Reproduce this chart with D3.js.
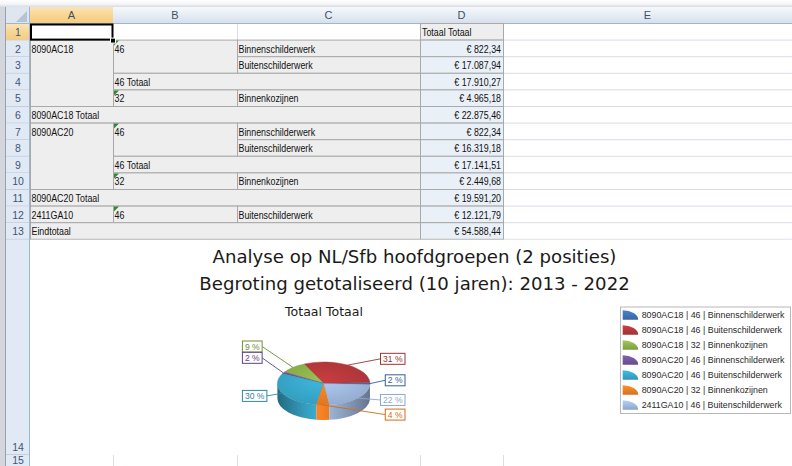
<!DOCTYPE html>
<html><head><meta charset="utf-8">
<script src="https://cdn.jsdelivr.net/npm/d3@7"></script>
<style>body{margin:0;background:#fff;overflow:hidden}svg{display:block}</style>
</head><body><svg id="c" width="792" height="466"></svg>
<script>
// ---------------- data ----------------
const columnLetters = ["A", "B", "C", "D", "E"];
const rowNumbers = [1, 2, 3, 4, 5, 6, 7, 8, 9, 10, 11, 12, 13, 14, 15];
const colA = ["", "8090AC18", "", "", "", "8090AC18 Totaal", "8090AC20", "", "", "", "8090AC20 Totaal", "2411GA10", "Eindtotaal"];
const colB = ["", "46", "", "46 Totaal", "32", "", "46", "", "46 Totaal", "32", "", "46", ""];
const colC = ["", "Binnenschilderwerk", "Buitenschilderwerk", "", "Binnenkozijnen", "", "Binnenschilderwerk", "Buitenschilderwerk", "", "Binnenkozijnen", "", "Buitenschilderwerk", ""];
const colD = ["Totaal Totaal", "€ 822,34", "€ 17.087,94", "€ 17.910,27", "€ 4.965,18", "€ 22.875,46", "€ 822,34", "€ 16.319,18", "€ 17.141,51", "€ 2.449,68", "€ 19.591,20", "€ 12.121,79", "€ 54.588,44"];

const chartTitle = ["Analyse op NL/Sfb hoofdgroepen (2 posities)", "Begroting getotaliseerd (10 jaren): 2013 - 2022"];
const pieTitle = "Totaal Totaal";
const seriesLabels = [
  "8090AC18 | 46 | Binnenschilderwerk",
  "8090AC18 | 46 | Buitenschilderwerk",
  "8090AC18 | 32 | Binnenkozijnen",
  "8090AC20 | 46 | Binnenschilderwerk",
  "8090AC20 | 46 | Buitenschilderwerk",
  "8090AC20 | 32 | Binnenkozijnen",
  "2411GA10 | 46 | Buitenschilderwerk"
];
const seriesValues = [822.34, 17087.94, 4965.18, 822.34, 16319.18, 2449.68, 12121.79];

// ---------------- styles / layout ----------------
const seriesColors = ["#3f74b8", "#b6383b", "#8db24c", "#74559f", "#38a9cc", "#f17f24", "#a0b9de"];
const labelTextColors = ["#345f95", "#983536", "#6f8f34", "#5f4683", "#2f87a5", "#d86a14", "#8da7cf"];
const labelNudge = [-3.3, -6.3, -20.9, -15.1, 2.6, 9.6, 1.8];

const W = 792, H = 466;
const svg = d3.select("#c");
const defs = svg.append("defs");
const cellFont = "Liberation Sans, Arial, sans-serif";
const titleFont = "DejaVu Sans, Verdana, sans-serif";

function natWidth(text, family, size) {
  const t = svg.append("text").attr("font-family", family).attr("font-size", size).text(text);
  const w = t.node().getComputedTextLength();
  t.remove();
  return w;
}
function fitSize(text, family, target) { return 100 * target / natWidth(text, family, 100); }
function condText(sel, family, size, k) {
  sel.attr("font-family", family).attr("font-size", size);
  const w = sel.node().getComputedTextLength();
  sel.attr("textLength", w * k).attr("lengthAdjust", "spacingAndGlyphs");
  return sel;
}
function lin(id, stops, x1, y1, x2, y2, user) {
  const g = defs.append("linearGradient").attr("id", id)
    .attr("x1", x1).attr("y1", y1).attr("x2", x2).attr("y2", y2);
  if (user) g.attr("gradientUnits", "userSpaceOnUse");
  stops.forEach(([o, c]) => g.append("stop").attr("offset", o).attr("stop-color", c));
  return `url(#${id})`;
}

// ---------------- grid geometry ----------------
const colEdges = [30, 113, 237, 420, 503, 792];
const headerTop = 7, headerBot = 24, rowH = 16.6;
const rowTop = r => headerBot + (r - 1) * rowH;
const row14Top = rowTop(14), row14Bot = 455, row15Bot = 470;

svg.append("rect").attr("width", W).attr("height", H).attr("fill", "#fff");
svg.append("rect").attr("x", 0).attr("y", 0).attr("width", W).attr("height", headerTop)
  .attr("fill", lin("topg", [[0, "#ffffff"], [0.6, "#f3f4f6"], [1, "#d6dae0"]], 0, 0, 0, 1));
svg.append("rect").attr("x", 0).attr("y", headerTop).attr("width", 6).attr("height", H)
  .attr("fill", "#d3d7dd");
svg.append("line").attr("x1", 5.5).attr("x2", 5.5).attr("y1", headerTop).attr("y2", H).attr("stroke", "#9aa1ab");

// column headers
const hdrFill = lin("hdr", [[0, "#f6f8fb"], [0.5, "#e6ecf4"], [1, "#d4deeb"]], 0, 0, 0, 1);
const selFill = lin("sel", [[0, "#fbe4b6"], [0.5, "#f8d592"], [1, "#f6cb7c"]], 0, 0, 0, 1);
columnLetters.forEach((L, i) => {
  svg.append("rect").attr("x", colEdges[i]).attr("y", headerTop)
    .attr("width", colEdges[i + 1] - colEdges[i]).attr("height", headerBot - headerTop)
    .attr("fill", i === 0 ? selFill : hdrFill);
  svg.append("line").attr("x1", colEdges[i + 1] + 0.5).attr("x2", colEdges[i + 1] + 0.5)
    .attr("y1", headerTop).attr("y2", headerBot).attr("stroke", "#b9c8da");
  svg.append("text").attr("x", (colEdges[i] + colEdges[i + 1]) / 2).attr("y", (headerTop + headerBot) / 2)
    .attr("dy", "0.36em").attr("text-anchor", "middle").attr("font-family", cellFont)
    .attr("font-size", 11).attr("fill", "#3f4f68").text(L);
});
svg.append("rect").attr("x", 6).attr("y", headerTop).attr("width", 24).attr("height", headerBot - headerTop)
  .attr("fill", "#dfe6f0");
svg.append("path").attr("d", "M27,22L27,11L16,22Z").attr("fill", "#b5c3d6");
svg.append("line").attr("x1", 6).attr("x2", W).attr("y1", headerBot - 0.5).attr("y2", headerBot - 0.5).attr("stroke", "#9eb6ce");

// row headers
rowNumbers.forEach(r => {
  const y0 = r <= 14 ? rowTop(r) : row14Bot;
  const y1 = r <= 13 ? rowTop(r + 1) : (r === 14 ? row14Bot : row15Bot);
  svg.append("rect").attr("x", 6).attr("y", y0).attr("width", 24).attr("height", y1 - y0)
    .attr("fill", r === 1 ? selFill : "#e1e9f4");
  svg.append("line").attr("x1", 6).attr("x2", 30).attr("y1", y1 - 0.5).attr("y2", y1 - 0.5).attr("stroke", "#c3cfdf");
  const ty = r === 14 ? y1 - 8 : (r === 15 ? 460.5 : (y0 + y1) / 2);
  svg.append("text").attr("x", 18).attr("y", ty).attr("dy", "0.36em").attr("text-anchor", "middle")
    .attr("font-family", cellFont).attr("font-size", 10.5).attr("fill", "#3f5478").text(r);
});
svg.append("line").attr("x1", 29.5).attr("x2", 29.5).attr("y1", headerTop).attr("y2", H).attr("stroke", "#9eb6ce");

// sheet gridlines
const gridC = "#d8dee7";
for (let r = 1; r <= 13; r++) {
  svg.append("line").attr("x1", colEdges[4]).attr("x2", W).attr("y1", rowTop(r + 1) - 0.5).attr("y2", rowTop(r + 1) - 0.5).attr("stroke", gridC);
}
svg.append("line").attr("x1", colEdges[2] + 0.5).attr("x2", colEdges[2] + 0.5).attr("y1", rowTop(1)).attr("y2", rowTop(2)).attr("stroke", gridC);

// pivot table cells
const n = colA.length;
const isTot = s => /Totaal$|^Eindtotaal$/.test(s);
const rects = [];
for (let i = 1; i < n; i++) {
  if (isTot(colA[i])) { rects.push([0, 3, i, i]); continue; }
  if (colA[i] !== "") { let j = i + 1; while (j < n && colA[j] === "") j++; rects.push([0, 1, i, j - 1]); }
  if (isTot(colB[i])) { rects.push([1, 3, i, i]); continue; }
  if (colB[i] !== "") { let j = i + 1; while (j < n && colB[j] === "" && colA[j] === "" && colC[j] !== "") j++; rects.push([1, 2, i, j - 1]); }
  if (colC[i] !== "") rects.push([2, 3, i, i]);
}
const pivStroke = "#a9a9a9";
rects.forEach(([c0, c1, i0, i1]) => {
  svg.append("rect").attr("x", colEdges[c0] + 0.5).attr("y", rowTop(i0 + 1) - 0.5)
    .attr("width", colEdges[c1] - colEdges[c0]).attr("height", rowTop(i1 + 2) - rowTop(i0 + 1))
    .attr("fill", "#eeeeee").attr("stroke", pivStroke);
});
colD.forEach((d, i) => {
  svg.append("rect").attr("x", colEdges[3] + 0.5).attr("y", rowTop(i + 1) - 0.5)
    .attr("width", colEdges[4] - colEdges[3]).attr("height", rowH)
    .attr("fill", i === 0 ? "#eeeeee" : "#eaf0f8").attr("stroke", pivStroke);
});
svg.append("rect").attr("x", colEdges[0] + 1).attr("y", rowTop(1)).attr("width", colEdges[1] - colEdges[0] - 1).attr("height", rowH - 0.5).attr("fill", "#fff");

// cell text
const cellSize = 10;
const cellK = 76.7 / natWidth("Binnenschilderwerk", cellFont, cellSize);
const cellText = (x, i, s, anchor) => condText(svg.append("text").attr("x", x).attr("y", rowTop(i + 1) + rowH / 2)
  .attr("dy", "0.36em").attr("fill", "#111").attr("text-anchor", anchor || "start").text(s), cellFont, cellSize, cellK);
for (let i = 0; i < n; i++) {
  if (colA[i]) cellText(colEdges[0] + 1.5, i, colA[i]);
  if (colB[i]) cellText(colEdges[1] + 1.5, i, colB[i]);
  if (colC[i]) cellText(colEdges[2] + 1.5, i, colC[i]);
  if (i === 0) cellText(colEdges[3] + 2, i, colD[i]);
  else cellText(colEdges[4] - 2, i, colD[i], "end");
  if (/^\d+$/.test(colB[i])) {
    const x = colEdges[1] + 1, y = rowTop(i + 1);
    svg.append("path").attr("d", `M${x},${y}L${x + 5},${y}L${x},${y + 5}Z`).attr("fill", "#2f8a34");
  }
}
svg.append("rect").attr("x", colEdges[0] + 1).attr("y", rowTop(1) + 0.5).attr("width", colEdges[1] - colEdges[0] - 1.5).attr("height", rowH - 1.5)
  .attr("fill", "none").attr("stroke", "#000").attr("stroke-width", 2);
svg.append("rect").attr("x", colEdges[1] - 2.5).attr("y", rowTop(2) - 2.5).attr("width", 5).attr("height", 5)
  .attr("fill", "#000").attr("stroke", "#fff").attr("stroke-width", 1);

[1, 2, 3, 4].forEach(k => svg.append("line").attr("x1", colEdges[k] + 0.5).attr("x2", colEdges[k] + 0.5)
  .attr("y1", row14Bot).attr("y2", H).attr("stroke", gridC));

// ---------------- chart ----------------
svg.append("rect").attr("x", 30).attr("y", row14Top).attr("width", W - 30).attr("height", row14Bot - row14Top).attr("fill", "#fff");

const ts = fitSize(chartTitle[0], titleFont, 404);
chartTitle.forEach((t, k) => svg.append("text").attr("x", 414.5).attr("y", 263 + k * 27)
  .attr("text-anchor", "middle").attr("font-family", titleFont).attr("font-size", ts).attr("fill", "#1a1a1a").text(t));

const ps = fitSize(pieTitle, titleFont, 78);
svg.append("text").attr("x", 324).attr("y", 315.5).attr("text-anchor", "middle")
  .attr("font-family", titleFont).attr("font-size", ps).attr("fill", "#1a1a1a").text(pieTitle);

// 3D pie
const cx = 323.7, cy = 383.5, rx = 46.3, ry = 21.5, depth = 15;
const start = Math.PI / 2 + 3 * Math.PI / 180;
const pie = d3.pie().sort(null).startAngle(start).endAngle(start - 2 * Math.PI);
const total = d3.sum(seriesValues);
const slices = pie(seriesValues).map((a, i) => ({ i, t1: Math.PI / 2 - a.startAngle, t2: Math.PI / 2 - a.endAngle, v: a.value }));
const P = (t, dz) => [cx + rx * Math.cos(t), cy - ry * Math.sin(t) + (dz || 0)];

seriesColors.forEach((c, i) => {
  const col = d3.color(c);
  lin("side" + i, [[0, col.darker(1.3)], [0.3, col.darker(0.2)], [0.45, col.brighter(0.1)], [0.75, col.darker(0.5)], [1, col.darker(1.3)]], cx - rx, 0, cx + rx, 0, true);
  const g = defs.append("radialGradient").attr("id", "top" + i).attr("gradientUnits", "userSpaceOnUse")
    .attr("cx", cx).attr("cy", cy - ry * 0.3).attr("r", rx * 1.15)
    .attr("gradientTransform", `translate(${cx},${cy}) scale(1,${ry / rx}) translate(${-cx},${-cy})`);
  g.append("stop").attr("offset", 0).attr("stop-color", col.brighter(0.25));
  g.append("stop").attr("offset", 1).attr("stop-color", col.darker(0.2));
  lin("leg" + i, [[0, col.brighter(0.35)], [1, col.darker(0.35)]], 0, 0, 0, 1);
});

const pieG = svg.append("g");
slices.forEach(s => {
  [[-Math.PI, 0], [Math.PI, 2 * Math.PI]].forEach(([lo, hi]) => {
    const a = Math.max(s.t1, lo), b = Math.min(s.t2, hi);
    if (b <= a) return;
    const pa = P(a), pb = P(b), pa2 = P(a, depth), pb2 = P(b, depth);
    pieG.append("path").attr("d",
      `M${pa}A${rx},${ry} 0 0 0 ${pb}L${pb2}A${rx},${ry} 0 0 1 ${pa2}Z`)
      .attr("fill", `url(#side${s.i})`);
  });
});
slices.forEach(s => {
  const p1 = P(s.t1), p2 = P(s.t2);
  const large = (s.t2 - s.t1) > Math.PI ? 1 : 0;
  pieG.append("path").attr("d", `M${cx},${cy}L${p1}A${rx},${ry} 0 ${large} 0 ${p2}Z`)
    .attr("fill", `url(#top${s.i})`).attr("stroke", d3.color(seriesColors[s.i]).darker(0.4)).attr("stroke-width", 0.4);
});

// data labels
const ls = fitSize("31 %", cellFont, 19.5);
const fmtPct = v => Math.round(v / total * 100) + " %";
slices.forEach(s => {
  const m = (s.t1 + s.t2) / 2;
  const R = P(m);
  const right = Math.cos(m) > -0.1;
  const ly = R[1] + labelNudge[s.i];
  const txt = fmtPct(s.v);
  const t = svg.append("text").attr("font-family", cellFont).attr("font-size", ls).text(txt);
  const tw = t.node().getComputedTextLength();
  const bw = tw + 5, bh = 11;
  const bx = right ? cx + rx + 35 - bw : cx - rx - 35;
  const edge = right ? bx : bx + bw;
  svg.insert("polyline", "text:last-of-type").attr("points", [R, [edge, ly]].join(" "))
    .attr("fill", "none").attr("stroke", labelTextColors[s.i]).attr("stroke-width", 0.9);
  svg.insert("rect", "text:last-of-type").attr("x", bx).attr("y", ly - bh / 2).attr("width", bw).attr("height", bh)
    .attr("fill", "#fff").attr("stroke", labelTextColors[s.i]).attr("stroke-width", 1);
  t.attr("x", bx + bw / 2).attr("y", ly).attr("dy", "0.36em").attr("text-anchor", "middle").attr("fill", labelTextColors[s.i]);
});

// legend
const lg = { x0: 620, x1: 790, y0: 306.5, y1: 413 };
svg.append("rect").attr("x", lg.x0 + 0.5).attr("y", lg.y0 + 0.5).attr("width", lg.x1 - lg.x0).attr("height", lg.y1 - lg.y0)
  .attr("fill", "#fff").attr("stroke", "#b8b8b8");
const yLeg = d3.scalePoint().domain(seriesLabels).range([lg.y0 + 8.5, lg.y1 - 8]);
const lfs = fitSize(seriesLabels[0], cellFont, 143);
seriesLabels.forEach((s, i) => {
  const y = yLeg(s), x = 622.7, w = 15.5, h = 9.5;
  svg.append("path").attr("d", `M${x},${y + h / 2}L${x},${y - h / 2}A${w},${h} 0 0 1 ${x + w},${y + h / 2}Z`)
    .attr("fill", `url(#leg${i})`);
  svg.append("text").attr("x", 641.7).attr("y", y).attr("dy", "0.36em").attr("font-family", cellFont)
    .attr("font-size", lfs).attr("fill", "#2a2a2a").text(s);
});
</script></body></html>
